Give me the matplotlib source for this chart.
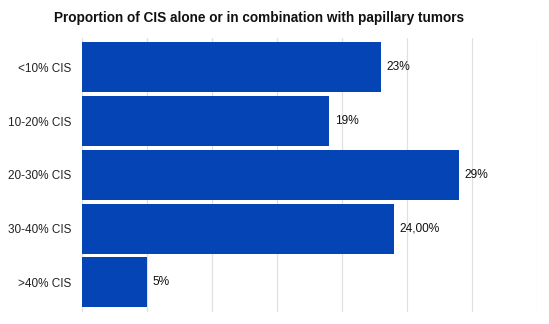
import matplotlib.pyplot as plt

categories = ["<10% CIS", "10-20% CIS", "20-30% CIS", "30-40% CIS", ">40% CIS"]
values = [23, 19, 29, 24, 5]
labels = ["23%", "19%", "29%", "24,00%", "5%"]

plt.rcParams['font.family'] = ['Liberation Sans', 'DejaVu Sans']

fig = plt.figure(figsize=(5.49, 3.24), dpi=100)
ax = fig.add_axes([0.1494, 0.037, 0.8286, 0.846])

y = list(range(len(categories)))
ax.barh(y, values, height=0.93, color='#0444B4', zorder=2)
for yi, v, lab in zip(y, values, labels):
    ax.text(v + 0.45, yi, lab, va='center', ha='left', fontsize=8.6, color='#111111')

ax.set_xlim(0, 35)
ax.set_ylim(4.55, -0.55)
ax.set_xticks(range(0, 36, 5))
ax.set_xticklabels([])
ax.set_yticks(y)
ax.set_yticklabels(categories, fontsize=8.5, color='#222222')
ax.tick_params(axis='both', length=0, pad=8)
ax.grid(axis='x', color='#e0e0e0', linewidth=0.9, zorder=0)
for s in ax.spines.values():
    s.set_visible(False)

fig.text(0.472, 0.944, "Proportion of CIS alone or in combination with papillary tumors",
         ha='center', va='center', fontsize=9.8, fontweight='bold', color='#111111')

fig.savefig('out.png', dpi=100)
